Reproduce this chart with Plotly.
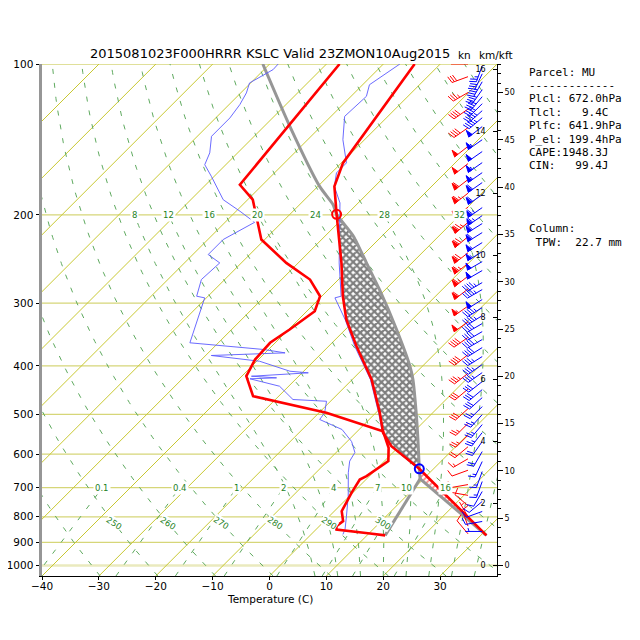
import numpy as np
import plotly.graph_objects as go

TITLE = "2015081023F000HRRR KSLC Valid 23ZMON10Aug2015"

# ---- sounding values (pressure hPa, temperature C) ----
temp_p = [100, 133.2, 157.5, 175.4, 199.4, 249.3, 290.5, 323.3, 365.6, 425.9,
          496.3, 544.0, 578.4, 641.9, 871.4]
temp_t = [-64.5, -61.4, -59.7, -57.1, -51.8, -42.4, -36.3, -31.6, -25.1, -16.6,
          -9.3, -5.2, -1.4, 7.5, 31.0]

dewp_p = [100, 111.6, 174.1, 186.5, 223.9, 249.3, 269.1, 290.5, 311.2, 338.5,
          359.8, 388.6, 419.5, 459.8, 496.3, 540.0, 582.7, 619.6, 663.8, 674.0,
          716.2, 779.7, 816.2, 835.2, 848.0, 863.6, 871.4]
dewp_t = [-77.7, -77.0, -74.0, -69.1, -60.6, -52.1, -45.0, -40.3, -38.6, -39.8,
          -40.9, -40.6, -39.2, -34.5, -18.7, -5.5, -1.6, 0.7, -0.5, -1.1,
          -0.2, 1.3, 3.3, 3.0, 3.6, 10.2, 13.2]

obs_temp_p = [100, 110.0, 116.0, 127.2, 141.6, 157.5, 164.9, 175.4, 189.3, 249.3,
              290.5, 292.7, 323.3, 365.6, 425.9, 496.3, 544.0, 578.4, 641.9, 871.4]
obs_temp_t = [-67.1, -68.8, -67.3, -67.6, -63.8, -59.1, -59.1, -57.1, -53.2, -42.8,
              -36.6, -37.4, -31.8, -25.4, -16.8, -9.5, -5.3, -1.5, 7.3, 31.0]

obs_dewp_p = [100, 102.6, 109.1, 114.2, 120.5, 128.1, 139.4, 150.4, 158.8, 167.5,
              186.5, 196.7, 206.9, 223.9, 239.9, 249.3, 269.1, 290.5, 292.7, 359.8,
              371.0, 376.8, 381.4, 391.6, 410.0, 413.0, 419.5, 422.6, 424.5, 439.2,
              466.9, 470.6, 496.3, 511.7, 535.8, 566.3, 595.5, 619.6, 653.5, 727.6,
              797.5, 848.0, 867.6]
obs_dewp_t = [-88.5, -88.4, -90.2, -89.0, -88.1, -87.5, -87.5, -84.9, -83.7, -80.5,
              -74.3, -69.3, -64.8, -67.3, -67.3, -63.8, -64.1, -62.0, -60.3, -55.0,
              -40.9, -36.5, -49.0, -39.5, -32.4, -28.9, -38.3, -33.6, -38.1, -31.6,
              -26.9, -20.7, -19.0, -18.7, -13.0, -9.2, -6.7, -6.1, -4.3, -0.2,
              3.0, 5.1, 5.6]

# most-unstable parcel: surface -> LCL (dry), then moist ascent
parcel_p = [871.4, 672.0, 641.9, 561.0, 496.3, 426.1, 400.6, 338.5, 281.9, 249.3,
            220.5, 199.4, 190.8, 175.4, 133.1, 100]
parcel_t = [31.0, 9.4, 7.5, 2.1, -2.9, -9.3, -12.2, -21.0, -31.0, -38.0,
            -45.0, -51.8, -54.1, -59.7, -75.5, -91.2]
mixline_p = [871.4, 672.0]
mixline_t = [13.2, 9.4]

lfc_p, lfc_t = 641.9, 7.5
el_p, el_t = 199.4, -51.8

# winds (kt, deg)
model_wind_p = [100, 106, 114, 123, 134, 146, 158, 170, 181, 193, 207, 221, 238, 250,
                265, 281, 304, 327, 351, 380, 414, 445, 487, 521, 550, 580, 613, 646,
                690, 725, 760, 800, 835, 865]
model_wind_spd = [10, 30, 35, 40, 40, 50, 50, 60, 65, 65, 75, 70, 70, 65,
                  65, 60, 55, 50, 40, 40, 35, 30, 30, 25, 25, 20, 15, 10,
                  10, 10, 10, 5, 10, 10]
model_wind_dir = [270, 250, 240, 235, 235, 232, 232, 232, 232, 232, 230, 230, 232, 232,
                  232, 232, 235, 235, 235, 232, 232, 230, 228, 225, 225, 230, 240, 250,
                  260, 280, 310, 330, 340, 320]

obs_wind_p = [100.8, 104.6, 108.5, 112.5, 116.2, 120.0, 123.9, 128.0, 133.3, 141.6,
              149.5, 157.3, 164.7, 172.4, 182.2, 193.4, 200.6, 208.1, 216.9, 227.1,
              236.7, 247.8, 258.2, 272.9, 281.8, 295.0, 306.1, 317.6, 329.4, 341.8,
              354.5, 367.8, 383.3, 397.6, 412.6, 430.0, 446.1, 462.8, 482.3, 500.3,
              523.8, 543.4, 566.3, 592.9, 620.7, 649.9, 680.4, 712.3, 745.7, 780.7,
              817.4, 855.7]
obs_wind_spd = [25, 30, 35, 35, 40, 40, 45, 45, 50, 55,
                50, 55, 55, 60, 60, 65, 65, 60, 60, 55,
                55, 50, 50, 45, 45, 50, 45, 45, 40, 40,
                40, 40, 35, 35, 35, 30, 30, 30, 25, 25,
                25, 25, 20, 20, 15, 15, 15, 10, 10, 10,
                10, 5]
obs_wind_dir = [200, 205, 210, 215, 220, 225, 228, 230, 232, 235,
                235, 235, 235, 235, 235, 235, 235, 238, 238, 238,
                238, 240, 240, 240, 240, 238, 238, 238, 240, 240,
                240, 238, 238, 235, 235, 232, 230, 228, 225, 222,
                220, 218, 215, 210, 205, 200, 200, 210, 230, 250,
                260, 270]

# background lines of the diagram
isobars = [100, 200, 300, 400, 500, 600, 700, 800, 900, 1000]
isotherms = list(range(-130, 50, 10))
dry_theta = list(range(220, 500, 10))
dry_labels = [250, 260, 270, 280, 290, 300]
moist_t0 = [8, 12, 16, 20, 24, 28, 32, 36]
mix_ratios = [0.1, 0.4, 1, 2, 4, 7, 10, 16]

panel_lines = ["Parcel: MU", "-------------", "Plcl: 672.0hPa", "Tlcl:   9.4C",
               "Plfc: 641.9hPa", "P_el: 199.4hPa", "CAPE:1948.3J", "CIN:   99.4J"]
column_lines = ["Column:", " TPW:  22.7 mm"]

# ---- geometry ----
P_BOT, P_TOP = 1050.0, 100.0
KX = 455 / 80.0                       # px per deg C
KY = 512 / np.log10(P_BOT / P_TOP)    # px per decade of pressure
SKEW = KY / KX                        # 45 degree isotherms


def sx(t, p):
    return np.asarray(t, float) + SKEW * np.log10(P_BOT / np.asarray(p, float))


def join(lines):
    xs, ys = [], []
    for x, y in lines:
        xs += list(x) + [None]
        ys += list(y) + [None]
    return xs, ys


def moist_adiabat(t0):
    # pseudo-adiabat starting from t0 at the bottom of the diagram
    def dtdp(T, p):
        es = 6.112 * np.exp(17.67 * (T - 273.15) / (T - 29.65))
        rs = 0.622 * es / (p - es)
        return (287.04 * T + 2.501e6 * rs) / (1005.7 + 2.501e6 ** 2 * rs * 0.622 / (287.04 * T * T)) / p
    T, p = t0 + 273.15, P_BOT
    ps, ts = [p], [T]
    step = -5.0
    while p > 200.0:
        k = dtdp(T + dtdp(T, p) * step / 2, p + step / 2)
        T += k * step
        p += step
        ps.append(p)
        ts.append(T)
    return np.array(ps), np.array(ts) - 273.15


def barbs(xb, pres, spd, ddir, L=17.0):
    sx_, sy_, fx, fy = [], [], [], []
    H, W, SP = 0.4 * L, 0.25 * L, 0.15 * L
    for p, s, d in zip(pres, spd, ddir):
        r = np.deg2rad(d)
        ue, un = np.sin(r), np.cos(r)
        pe, pn = un, -ue

        def pt(a, h):
            e = a * ue + h * pe
            n = a * un + h * pn
            return xb + e / KX, p * 10 ** (-n / KY)

        segs = [[pt(0, 0), pt(L, 0)]]
        n = int(round(s / 5.0))
        nflag, n = divmod(n, 10)
        nfull, nhalf = divmod(n, 2)
        a = L
        for _ in range(nflag):
            poly = [pt(a, 0), pt(a - W / 2, H), pt(a - W, 0), pt(a, 0)]
            fx += [q[0] for q in poly] + [None]
            fy += [q[1] for q in poly] + [None]
            a -= W + SP * 0.5
        for _ in range(nfull):
            segs.append([pt(a, 0), pt(a + W / 2, H)])
            a -= SP
        if nhalf:
            if nflag + nfull == 0:
                a -= 1.5 * SP
            segs.append([pt(a, 0), pt(a + W / 4, H / 2)])
        for sg in segs:
            sx_ += [q[0] for q in sg] + [None]
            sy_ += [q[1] for q in sg] + [None]
    return sx_, sy_, fx, fy


fig = go.Figure()

GREEN = "rgb(95,170,95)"
LABEL_GREEN = "rgb(30,130,30)"

# isobars
x, y = join([([-40, 40], [p, p]) for p in isobars if p != 1000])
fig.add_trace(go.Scatter(x=x, y=y, mode="lines", line=dict(color="rgb(214,214,120)", width=1.3),
                         hoverinfo="skip", showlegend=False))
fig.add_trace(go.Scatter(x=[-40, 40], y=[1000, 1000], mode="lines",
                         line=dict(color="rgb(234,234,190)", width=2.5), hoverinfo="skip", showlegend=False))

# isotherms
x, y = join([(sx([t, t], [P_BOT, P_TOP]), [P_BOT, P_TOP]) for t in isotherms])
fig.add_trace(go.Scatter(x=x, y=y, mode="lines", line=dict(color="rgb(200,200,50)", width=1),
                         hoverinfo="skip", showlegend=False))

# dry adiabats
pp = np.geomspace(P_BOT, P_TOP, 60)
x, y = join([(sx(th * (pp / 1000.0) ** 0.286 - 273.15, pp), pp) for th in dry_theta])
fig.add_trace(go.Scatter(x=x, y=y, mode="lines", line=dict(color=GREEN, width=1, dash="5px,9px"),
                         hoverinfo="skip", showlegend=False))

# moist adiabats
moist = [moist_adiabat(t0) for t0 in moist_t0]
x, y = join([(sx(t, p), p) for p, t in moist])
fig.add_trace(go.Scatter(x=x, y=y, mode="lines", line=dict(color=GREEN, width=1, dash="5px,9px"),
                         hoverinfo="skip", showlegend=False))

# mixing ratio lines
pm = np.linspace(P_BOT, 700, 15)
mix = []
for w in mix_ratios:
    lg = np.log(pm * w / (622.0 + w) / 6.112)
    mix.append((sx(243.5 * lg / (17.67 - lg), pm), pm))
x, y = join(mix)
fig.add_trace(go.Scatter(x=x, y=y, mode="lines", line=dict(color=GREEN, width=1, dash="5px,9px"),
                         hoverinfo="skip", showlegend=False))

# CAPE and CIN shading
env_up = sorted([(p, t) for p, t in zip(temp_p, temp_t) if el_p <= p <= lfc_p], key=lambda v: -v[0])
par_dn = sorted([(p, t) for p, t in zip(parcel_p, parcel_t) if el_p <= p <= lfc_p], key=lambda v: v[0])
poly = env_up + par_dn
fig.add_trace(go.Scatter(x=sx([v[1] for v in poly], [v[0] for v in poly]), y=[v[0] for v in poly],
                         mode="lines", fill="toself", fillcolor="white", line=dict(width=0),
                         fillpattern=dict(shape="x", fgcolor="black", bgcolor="white", size=5, solidity=0.7),
                         hoverinfo="skip", showlegend=False))
cin = [(temp_p[-1], temp_t[-1]), (lfc_p, lfc_t), (parcel_p[1], parcel_t[1]), (parcel_p[0], parcel_t[0])]
fig.add_trace(go.Scatter(x=sx([v[1] for v in cin], [v[0] for v in cin]), y=[v[0] for v in cin],
                         mode="lines", fill="toself", fillcolor="white", line=dict(width=0),
                         fillpattern=dict(shape="/", fgcolor="red", bgcolor="white", size=4, solidity=0.4),
                         hoverinfo="skip", showlegend=False))

# parcel path
fig.add_trace(go.Scatter(x=sx(parcel_t[:2], parcel_p[:2]), y=parcel_p[:2], mode="lines",
                         line=dict(color="rgb(150,150,150)", width=3), hoverinfo="skip", showlegend=False))
fig.add_trace(go.Scatter(x=sx(parcel_t[1:], parcel_p[1:]), y=parcel_p[1:], mode="lines",
                         line=dict(color="rgb(150,150,150)", width=3, shape="spline", smoothing=0.6),
                         hoverinfo="skip", showlegend=False))
fig.add_trace(go.Scatter(x=sx(mixline_t, mixline_p), y=mixline_p, mode="lines",
                         line=dict(color="rgb(150,150,150)", width=3), hoverinfo="skip", showlegend=False))

# second sounding (thin blue)
for pl, tl in ((obs_temp_p, obs_temp_t), (obs_dewp_p, obs_dewp_t)):
    fig.add_trace(go.Scatter(x=sx(tl, pl), y=pl, mode="lines", line=dict(color="rgb(90,90,255)", width=0.9),
                             hoverinfo="skip", showlegend=False))

# model sounding (thick red)
for pl, tl in ((temp_p, temp_t), (dewp_p, dewp_t)):
    fig.add_trace(go.Scatter(x=sx(tl, pl), y=pl, mode="lines", line=dict(color="red", width=2.6),
                             hoverinfo="skip", showlegend=False))

# LFC / EL markers
fig.add_trace(go.Scatter(x=sx([lfc_t], [lfc_p]), y=[lfc_p], mode="markers",
                         marker=dict(symbol="circle-open", size=9, color="blue", line=dict(width=2)),
                         hoverinfo="skip", showlegend=False))
fig.add_trace(go.Scatter(x=sx([el_t], [el_p]), y=[el_p], mode="markers",
                         marker=dict(symbol="circle-open", size=9, color="red", line=dict(width=2)),
                         hoverinfo="skip", showlegend=False))

# wind barbs
for xb, wp, ws, wd, col in ((34.9, model_wind_p, model_wind_spd, model_wind_dir, "red"),
                            (37.4, obs_wind_p, obs_wind_spd, obs_wind_dir, "blue")):
    bx, by, fx, fy = barbs(xb, wp, ws, wd)
    fig.add_trace(go.Scatter(x=bx, y=by, mode="lines", line=dict(color=col, width=1),
                             hoverinfo="skip", showlegend=False))
    fig.add_trace(go.Scatter(x=fx, y=fy, mode="lines", fill="toself", fillcolor=col,
                             line=dict(color=col, width=1), hoverinfo="skip", showlegend=False))

# invisible traces so the height axes are drawn
fig.add_trace(go.Scatter(x=[0], y=[5], yaxis="y2", mode="markers", marker=dict(opacity=0),
                         hoverinfo="skip", showlegend=False))
fig.add_trace(go.Scatter(x=[0], y=[5], yaxis="y3", mode="markers", marker=dict(opacity=0),
                         hoverinfo="skip", showlegend=False))

ann = []
lab_font = dict(family="DejaVu Sans", size=8.5, color=LABEL_GREEN)
for th in dry_labels:
    pl = 823.0
    ann.append(dict(x=float(sx(th * (pl / 1000.0) ** 0.286 - 273.15, pl)), y=np.log10(pl), xref="x", yref="y",
                    text=str(th), showarrow=False, textangle=33, font=lab_font, bgcolor="white", borderpad=0))
for t0, (p, t) in zip(moist_t0, moist):
    xl = float(sx(t[-1], p[-1]))
    if xl < 38:
        ann.append(dict(x=xl, y=np.log10(200), xref="x", yref="y", text=str(t0), showarrow=False,
                        font=lab_font, bgcolor="white", borderpad=1))
for w, (xm, pmm) in zip(mix_ratios, mix):
    ann.append(dict(x=float(xm[-1]), y=np.log10(700), xref="x", yref="y", text=f"{w:g}", showarrow=False,
                    font=lab_font, bgcolor="white", borderpad=1))


def paper_text(xpx, ypx, text, font, xanchor="center"):
    return dict(x=(xpx - 42) / 455.0, y=(576 - ypx) / 512.0, xref="paper", yref="paper", text=text,
                showarrow=False, xanchor=xanchor, yanchor="middle", font=font)


ann.append(paper_text(269.5, 53, TITLE, dict(family="DejaVu Sans", size=13, color="black")))
ann.append(paper_text(464, 55, "kn", dict(family="DejaVu Sans", size=10.5, color="black")))
ann.append(paper_text(496, 55, "km/kft", dict(family="DejaVu Sans", size=10.5, color="black")))
ann.append(paper_text(269.5, 599, "Temperature (C)", dict(family="DejaVu Sans", size=10.5, color="black")))

mono = dict(family="DejaVu Sans Mono", size=11, color="black")
for i, line in enumerate(panel_lines):
    ann.append(paper_text(527, 72 + i * 13.4, line.replace(" ", "\u00a0"), mono, "left"))
for i, line in enumerate(column_lines):
    ann.append(paper_text(527, 228 + i * 14, line.replace(" ", "\u00a0"), mono, "left"))

tick_font = dict(family="DejaVu Sans", size=10.5, color="black")
small_font = dict(family="DejaVu Sans", size=8, color="black")
# the page body has an 8px margin, so the figure is 632px with the plot at (42..497, 64..576) on screen
fig.update_layout(
    width=632, height=632,
    margin=dict(l=34, r=143, t=56, b=64),
    paper_bgcolor="white", plot_bgcolor="white",
    showlegend=False,
    annotations=ann,
    xaxis=dict(range=[-40, 40], tickvals=list(range(-40, 50, 10)), ticks="outside", ticklen=3,
               ticklabelstandoff=-3,
               tickcolor="black", showline=True, linecolor="black", linewidth=1, showgrid=False,
               zeroline=False, tickfont=tick_font, automargin=False),
    yaxis=dict(type="log", range=[np.log10(P_BOT), np.log10(P_TOP)], tickvals=isobars,
               ticktext=[str(p) for p in isobars], ticks="outside", ticklen=3.5, tickcolor="black",
               showline=True, linecolor="rgb(150,150,150)", linewidth=3, showgrid=False,
               zeroline=False, tickfont=tick_font, automargin=False),
    yaxis2=dict(overlaying="y", side="right", anchor="x", range=[-0.342, 16.163],
                tickvals=list(range(0, 18, 2)), ticks="inside", ticklen=4, tickcolor="black",
                ticklabelposition="inside", ticklabelstandoff=6, showline=True, linecolor="black",
                linewidth=1, showgrid=False, zeroline=False, tickfont=small_font, automargin=False),
    yaxis3=dict(overlaying="y", side="right", anchor="x", range=[-1.122, 53.03],
                tick0=0, dtick=5, ticks="outside", ticklen=5, tickcolor="black",
                minor=dict(dtick=1, ticks="outside", ticklen=3, tickcolor="black"),
                showline=True, linecolor="black", linewidth=1, showgrid=False, zeroline=False,
                tickfont=small_font, automargin=False),
)

fig.write_html("out.html")
